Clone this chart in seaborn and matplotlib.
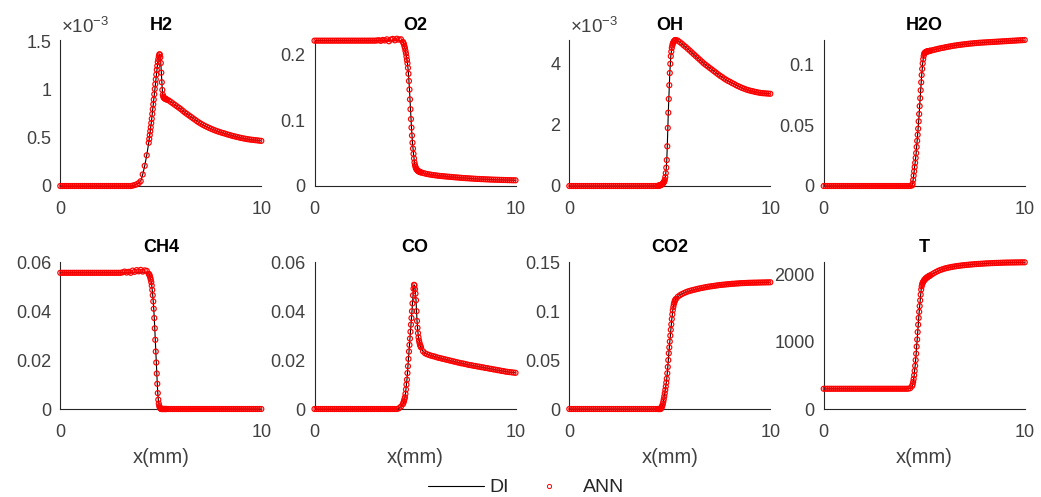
import numpy as np
import pandas as pd
import matplotlib
matplotlib.use("Agg")
import matplotlib.pyplot as plt
from matplotlib.lines import Line2D
from matplotlib.ticker import FixedLocator, FuncFormatter
import seaborn as sns

# Spatial grid (mm): 0.1 mm in the plateaus, 0.025 mm across the flame front
x_mm = [0.0, 0.1, 0.2, 0.3, 0.4, 0.5, 0.6, 0.7, 0.8, 0.9,
        1.0, 1.1, 1.2, 1.3, 1.4, 1.5, 1.6, 1.7, 1.8, 1.9,
        2.0, 2.1, 2.2, 2.3, 2.4, 2.5, 2.6, 2.7, 2.8, 2.9,
        3.0, 3.1, 3.2, 3.3, 3.4, 3.5, 3.6, 3.7, 3.8, 3.9,
        4.0, 4.1, 4.2, 4.3, 4.4,
        4.425, 4.45, 4.475, 4.5, 4.525, 4.55, 4.575, 4.6, 4.625, 4.65, 4.675, 4.7,
        4.725, 4.75, 4.775, 4.8, 4.825, 4.85, 4.875, 4.9, 4.925, 4.95, 4.975, 5.0,
        5.025, 5.05, 5.075, 5.1, 5.125, 5.15, 5.175, 5.2, 5.225, 5.25, 5.275, 5.3,
        5.4, 5.5, 5.6, 5.7, 5.8, 5.9, 6.0,
        6.1, 6.2, 6.3, 6.4, 6.5, 6.6, 6.7, 6.8, 6.9, 7.0,
        7.1, 7.2, 7.3, 7.4, 7.5, 7.6, 7.7, 7.8, 7.9, 8.0,
        8.1, 8.2, 8.3, 8.4, 8.5, 8.6, 8.7, 8.8, 8.9, 9.0,
        9.1, 9.2, 9.3, 9.4, 9.5, 9.6, 9.7, 9.8, 9.9, 10.0]

# Direct-integration profiles (H2 and OH in units of 1e-3)
h2 = [0, 0, 0, 0, 0, 0, 0, 0, 0, 0,
      0, 0, 0, 0, 0, 0, 0, 0, 0, 0,
      0, 0, 0, 0, 0, 0, 0, 0, 0, 0,
      0, 0, 0, 0, 0, 0, 0.004, 0.01, 0.018, 0.03,
      0.05, 0.12, 0.21, 0.32, 0.45,
      0.49, 0.53, 0.57, 0.61, 0.655, 0.70, 0.75, 0.80, 0.85, 0.90, 0.955, 1.01,
      1.06, 1.11, 1.16, 1.21, 1.25, 1.29, 1.32, 1.35, 1.37, 1.37, 1.34, 1.28,
      1.18, 1.08, 1.0, 0.95, 0.93, 0.92, 0.915, 0.91, 0.908, 0.905, 0.902, 0.90,
      0.89, 0.875, 0.86, 0.845, 0.83, 0.815, 0.80,
      0.782, 0.765, 0.75, 0.735, 0.72, 0.705, 0.69, 0.675, 0.661, 0.648,
      0.636, 0.625, 0.615, 0.605, 0.596, 0.587, 0.579, 0.571, 0.564, 0.557,
      0.551, 0.545, 0.538, 0.532, 0.526, 0.52, 0.515, 0.51, 0.505, 0.50,
      0.496, 0.492, 0.488, 0.485, 0.482, 0.48, 0.477, 0.475, 0.472, 0.47]

o2 = [0.2215, 0.2215, 0.2215, 0.2215, 0.2215, 0.2215, 0.2215, 0.2215, 0.2215, 0.2215,
      0.2215, 0.2215, 0.2215, 0.2215, 0.2215, 0.2215, 0.2215, 0.2215, 0.2215, 0.2215,
      0.2215, 0.2215, 0.2215, 0.2215, 0.2215, 0.2215, 0.2215, 0.2215, 0.2215, 0.2215,
      0.2215, 0.2215, 0.2215, 0.2215, 0.2215, 0.2215, 0.2215, 0.2215, 0.2215, 0.2215,
      0.2215, 0.2215, 0.2215, 0.2212, 0.2195,
      0.218, 0.216, 0.213, 0.210, 0.206, 0.202, 0.197, 0.192, 0.187, 0.180, 0.171, 0.160,
      0.147, 0.132, 0.117, 0.102, 0.089, 0.077, 0.066, 0.057, 0.049, 0.042, 0.036, 0.032,
      0.029, 0.027, 0.0255, 0.0245, 0.0237, 0.023, 0.0225, 0.022, 0.0216, 0.0213, 0.021, 0.0207,
      0.0198, 0.019, 0.0183, 0.0177, 0.0172, 0.0167, 0.0163,
      0.0159, 0.0155, 0.0152, 0.0149, 0.0146, 0.0143, 0.0141, 0.0138, 0.0135, 0.0132,
      0.013, 0.0127, 0.0125, 0.0122, 0.012, 0.0118, 0.0116, 0.0114, 0.0112, 0.011,
      0.0108, 0.0107, 0.0105, 0.0104, 0.0102, 0.0101, 0.0099, 0.0098, 0.0097, 0.0096,
      0.0095, 0.0094, 0.0093, 0.0092, 0.0091, 0.009, 0.0089, 0.0088, 0.0087, 0.0087]

oh = [0, 0, 0, 0, 0, 0, 0, 0, 0, 0,
      0, 0, 0, 0, 0, 0, 0, 0, 0, 0,
      0, 0, 0, 0, 0, 0, 0, 0, 0, 0,
      0, 0, 0, 0, 0, 0, 0, 0, 0, 0,
      0, 0, 0, 0.002, 0.006,
      0.008, 0.01, 0.015, 0.02, 0.025, 0.03, 0.04, 0.05, 0.065, 0.08, 0.10, 0.12,
      0.15, 0.2, 0.29, 0.42, 0.6, 0.85, 1.3, 1.9, 2.4, 2.85, 3.3, 3.7,
      4.0, 4.25, 4.4, 4.52, 4.6, 4.66, 4.7, 4.73, 4.75, 4.77, 4.775, 4.78,
      4.76, 4.71, 4.66, 4.60, 4.55, 4.49, 4.43,
      4.37, 4.31, 4.25, 4.19, 4.13, 4.07, 4.01, 3.96, 3.91, 3.86,
      3.81, 3.76, 3.71, 3.66, 3.61, 3.57, 3.52, 3.48, 3.44, 3.41,
      3.37, 3.34, 3.30, 3.27, 3.24, 3.21, 3.185, 3.16, 3.14, 3.12,
      3.105, 3.09, 3.075, 3.06, 3.05, 3.04, 3.035, 3.03, 3.025, 3.02]

h2o = [0, 0, 0, 0, 0, 0, 0, 0, 0, 0,
       0, 0, 0, 0, 0, 0, 0, 0, 0, 0,
       0, 0, 0, 0, 0, 0, 0, 0, 0, 0,
       0, 0, 0, 0, 0, 0, 0, 0, 0, 0,
       0, 0, 0, 0, 0.0005,
       0.002, 0.005, 0.0085, 0.012, 0.0155, 0.019, 0.023, 0.027, 0.032, 0.037, 0.042, 0.047,
       0.053, 0.059, 0.0655, 0.072, 0.0785, 0.085, 0.091, 0.096, 0.1005, 0.104, 0.1067, 0.1085,
       0.1091, 0.1095, 0.1098, 0.110, 0.1102, 0.1103, 0.1104, 0.1105, 0.1106, 0.1107, 0.1108, 0.1109,
       0.1113, 0.1117, 0.1121, 0.1125, 0.1129, 0.1132, 0.1135,
       0.1139, 0.1142, 0.1145, 0.1148, 0.1151, 0.1153, 0.1156, 0.1158, 0.116, 0.1162,
       0.1164, 0.1166, 0.1168, 0.1169, 0.1171, 0.1172, 0.1174, 0.1175, 0.1176, 0.1177,
       0.1178, 0.1179, 0.118, 0.1181, 0.1182, 0.1183, 0.1184, 0.1185, 0.1186, 0.1187,
       0.1188, 0.1189, 0.119, 0.1191, 0.1192, 0.1193, 0.1194, 0.1195, 0.1196, 0.1197]

ch4 = [0.0557, 0.0557, 0.0557, 0.0557, 0.0557, 0.0557, 0.0557, 0.0557, 0.0557, 0.0557,
       0.0557, 0.0557, 0.0557, 0.0557, 0.0557, 0.0557, 0.0557, 0.0557, 0.0557, 0.0557,
       0.0557, 0.0557, 0.0557, 0.0557, 0.0557, 0.0557, 0.0557, 0.0557, 0.0557, 0.0557,
       0.0557, 0.0557, 0.0557, 0.0557, 0.0557, 0.0557, 0.0557, 0.0557, 0.0557, 0.0557,
       0.0557, 0.0557, 0.0557, 0.0556, 0.0553,
       0.055, 0.0545, 0.0538, 0.053, 0.0519, 0.0505, 0.0487, 0.0465, 0.044, 0.041, 0.0372, 0.033,
       0.0283, 0.0235, 0.019, 0.0145, 0.0103, 0.0065, 0.0038, 0.0022, 0.0012, 0.0006, 0.0003, 0.0001,
       0, 0, 0, 0, 0, 0, 0, 0, 0, 0, 0, 0,
       0, 0, 0, 0, 0, 0, 0,
       0, 0, 0, 0, 0, 0, 0, 0, 0, 0,
       0, 0, 0, 0, 0, 0, 0, 0, 0, 0,
       0, 0, 0, 0, 0, 0, 0, 0, 0, 0,
       0, 0, 0, 0, 0, 0, 0, 0, 0, 0]

co = [0, 0, 0, 0, 0, 0, 0, 0, 0, 0,
      0, 0, 0, 0, 0, 0, 0, 0, 0, 0,
      0, 0, 0, 0, 0, 0, 0, 0, 0, 0,
      0, 0, 0, 0, 0, 0, 0, 0, 0, 0,
      0, 0, 0.0003, 0.001, 0.002,
      0.0026, 0.0032, 0.004, 0.0048, 0.0062, 0.008, 0.010, 0.012, 0.0147, 0.0175, 0.0205, 0.0235,
      0.0262, 0.0288, 0.0316, 0.0345, 0.0372, 0.040, 0.0432, 0.0465, 0.0492, 0.0508, 0.0506, 0.049,
      0.0472, 0.0445, 0.040, 0.036, 0.0332, 0.031, 0.0293, 0.028, 0.027, 0.0262, 0.0257, 0.0252,
      0.0236, 0.0228, 0.0224, 0.0221, 0.0218, 0.0216, 0.0214,
      0.0211, 0.0209, 0.0207, 0.0205, 0.0203, 0.0201, 0.0199, 0.0197, 0.0195, 0.0193,
      0.0191, 0.0189, 0.0187, 0.0186, 0.0184, 0.0182, 0.018, 0.0179, 0.0177, 0.0176,
      0.0174, 0.0173, 0.0171, 0.017, 0.0168, 0.0167, 0.0165, 0.0164, 0.0162, 0.0161,
      0.0159, 0.0158, 0.0156, 0.0155, 0.0153, 0.0152, 0.0151, 0.015, 0.0149, 0.0148]

co2 = [0, 0, 0, 0, 0, 0, 0, 0, 0, 0,
       0, 0, 0, 0, 0, 0, 0, 0, 0, 0,
       0, 0, 0, 0, 0, 0, 0, 0, 0, 0,
       0, 0, 0, 0, 0, 0, 0, 0, 0, 0,
       0, 0, 0, 0, 0,
       0, 0, 0, 0, 0, 0.0002, 0.0008, 0.002, 0.0033, 0.005, 0.0073, 0.010,
       0.013, 0.016, 0.0195, 0.023, 0.027, 0.031, 0.0365, 0.043, 0.05, 0.057, 0.063, 0.069,
       0.075, 0.081, 0.0865, 0.092, 0.0968, 0.101, 0.1043, 0.107, 0.109, 0.1105, 0.1116, 0.1125,
       0.1148, 0.1163, 0.1175, 0.1185, 0.1194, 0.1202, 0.1208,
       0.1214, 0.1219, 0.1224, 0.1229, 0.1234, 0.1238, 0.1242, 0.1246, 0.125, 0.1253,
       0.1256, 0.1259, 0.1262, 0.1265, 0.1268, 0.127, 0.1272, 0.1274, 0.1276, 0.1278,
       0.128, 0.1281, 0.1283, 0.1284, 0.1286, 0.1287, 0.1288, 0.1289, 0.129, 0.1291,
       0.1291, 0.1292, 0.1292, 0.1293, 0.1293, 0.1294, 0.1294, 0.1295, 0.1295, 0.1296]

temp = [300, 300, 300, 300, 300, 300, 300, 300, 300, 300,
        300, 300, 300, 300, 300, 300, 300, 300, 300, 300,
        300, 300, 300, 300, 300, 300, 300, 300, 300, 300,
        300, 300, 300, 300, 300, 300, 300, 300, 300, 300,
        300, 300, 301, 308, 340,
        365, 400, 445, 500, 565, 640, 725, 820, 925, 1030, 1140, 1250,
        1350, 1440, 1525, 1610, 1695, 1770, 1818, 1850, 1870, 1885, 1897, 1908,
        1918, 1926, 1933, 1940, 1946, 1952, 1957, 1962, 1967, 1971, 1976, 1980,
        1998, 2016, 2032, 2047, 2060, 2070, 2080,
        2088, 2095, 2101, 2107, 2112, 2117, 2121, 2125, 2129, 2132,
        2135, 2138, 2141, 2143, 2146, 2148, 2150, 2152, 2154, 2156,
        2158, 2159, 2161, 2162, 2164, 2165, 2166, 2167, 2168, 2169,
        2170, 2170, 2171, 2171, 2172, 2172, 2173, 2173, 2174, 2174]

# Network predictions differ from DI only in the unburnt plateau of O2 and CH4
ann_x = [3.1, 3.2, 3.3, 3.4, 3.5, 3.6, 3.7, 3.8, 3.9, 4.0, 4.1, 4.2, 4.3]
o2_ann = [0.2218, 0.2222, 0.2212, 0.2226, 0.2218, 0.2235, 0.2206, 0.2232,
          0.2242, 0.2220, 0.2245, 0.2230, 0.2236]
ch4_ann = [0.0559, 0.0562, 0.0558, 0.0561, 0.0557, 0.0566, 0.0561, 0.0568,
           0.0563, 0.0569, 0.0562, 0.0567, 0.0565]

titles = ["H2", "O2", "OH", "H2O", "CH4", "CO", "CO2", "T"]
profiles = [h2, o2, oh, h2o, ch4, co, co2, temp]
ann_override = {"O2": o2_ann, "CH4": ch4_ann}
y_ticks = [[0, 0.5, 1, 1.5], [0, 0.1, 0.2], [0, 2, 4], [0, 0.05, 0.1],
           [0, 0.02, 0.04, 0.06], [0, 0.02, 0.04, 0.06], [0, 0.05, 0.1, 0.15],
           [0, 1000, 2000]]
y_top = [1.52, 0.2225, 4.78, 0.1197, 0.06, 0.06, 0.15, 2174]
scaled = {"H2", "OH"}
x_ticks = [0, 10]

sns.set_style("white")
plt.rcParams["font.family"] = ["Liberation Sans", "DejaVu Sans"]
plt.rcParams["mathtext.fontset"] = "custom"
plt.rcParams["mathtext.rm"] = "Liberation Sans"
plt.rcParams["mathtext.it"] = "Liberation Sans:italic"
plt.rcParams["mathtext.bf"] = "Liberation Sans:bold"

AX_COLOR = "#262626"
TXT_COLOR = "#404040"

fig = plt.figure(figsize=(10.41, 4.97), dpi=100)
W, H = 1041.0, 497.0
lefts = [60.3, 314.5, 569.3, 823.7]
row_bottom = [186.0, 409.0]
row_top = [40.0, 262.3]
ax_w = 201.0

for i, (name, di) in enumerate(zip(titles, profiles)):
    r, c = divmod(i, 4)
    ax = fig.add_axes([lefts[c] / W, 1 - row_bottom[r] / H, ax_w / W,
                       (row_bottom[r] - row_top[r]) / H])
    ann = list(di)
    if name in ann_override:
        for xv, yv in zip(ann_x, ann_override[name]):
            ann[x_mm.index(xv)] = yv
    df = pd.DataFrame({"x": x_mm, "DI": di, "ANN": ann})

    sns.lineplot(data=df, x="x", y="DI", ax=ax, color="black", linewidth=0.8,
                 estimator=None, sort=False, legend=False, zorder=2)
    sns.scatterplot(data=df, x="x", y="ANN", ax=ax, marker="o", s=13,
                    linewidth=0.85, legend=False, zorder=3, clip_on=False)
    pts = ax.collections[-1]
    pts.set_facecolor("none")
    pts.set_edgecolor("red")

    ax.set_xlim(0, 10)
    ax.set_ylim(0, y_top[i])
    ax.xaxis.set_major_locator(FixedLocator(x_ticks))
    ax.yaxis.set_major_locator(FixedLocator(y_ticks[i]))
    fmt = FuncFormatter(lambda v, p: f"{v:g}")
    ax.xaxis.set_major_formatter(fmt)
    ax.yaxis.set_major_formatter(fmt)
    ax.tick_params(axis="both", length=0, labelsize=13, labelcolor=TXT_COLOR)
    ax.tick_params(axis="x", pad=11)
    ax.tick_params(axis="y", pad=6.5)
    for side in ("top", "right"):
        ax.spines[side].set_visible(False)
    for side in ("left", "bottom"):
        ax.spines[side].set_color(AX_COLOR)
        ax.spines[side].set_linewidth(0.8)
    ax.set_title(name, fontsize=13, fontweight="bold", color="black", pad=7.5)
    ax.set_ylabel("")
    if r == 1:
        ax.set_xlabel("x(mm)", fontsize=14.5, color=TXT_COLOR, labelpad=5)
    else:
        ax.set_xlabel("")
    if name in scaled:
        ax.annotate("×10$^{-3}$", xy=(0, 1), xycoords="axes fraction",
                    xytext=(0.8, 5), textcoords="offset points",
                    ha="left", va="baseline", fontsize=13.5, color=TXT_COLOR)

handles = [Line2D([], [], color="black", linewidth=0.8),
           Line2D([], [], linestyle="none", marker="o", markersize=3,
                  markerfacecolor="none", markeredgecolor="red", markeredgewidth=0.7)]
fig.legend(handles, ["DI", "ANN"], loc="center", bbox_to_anchor=(526 / W, 0.019),
           ncol=2, frameon=False, fontsize=14, handlelength=2.9,
           handletextpad=0.3, columnspacing=0.6, labelcolor=AX_COLOR)

fig.savefig("out.png", dpi=100, facecolor="white")
